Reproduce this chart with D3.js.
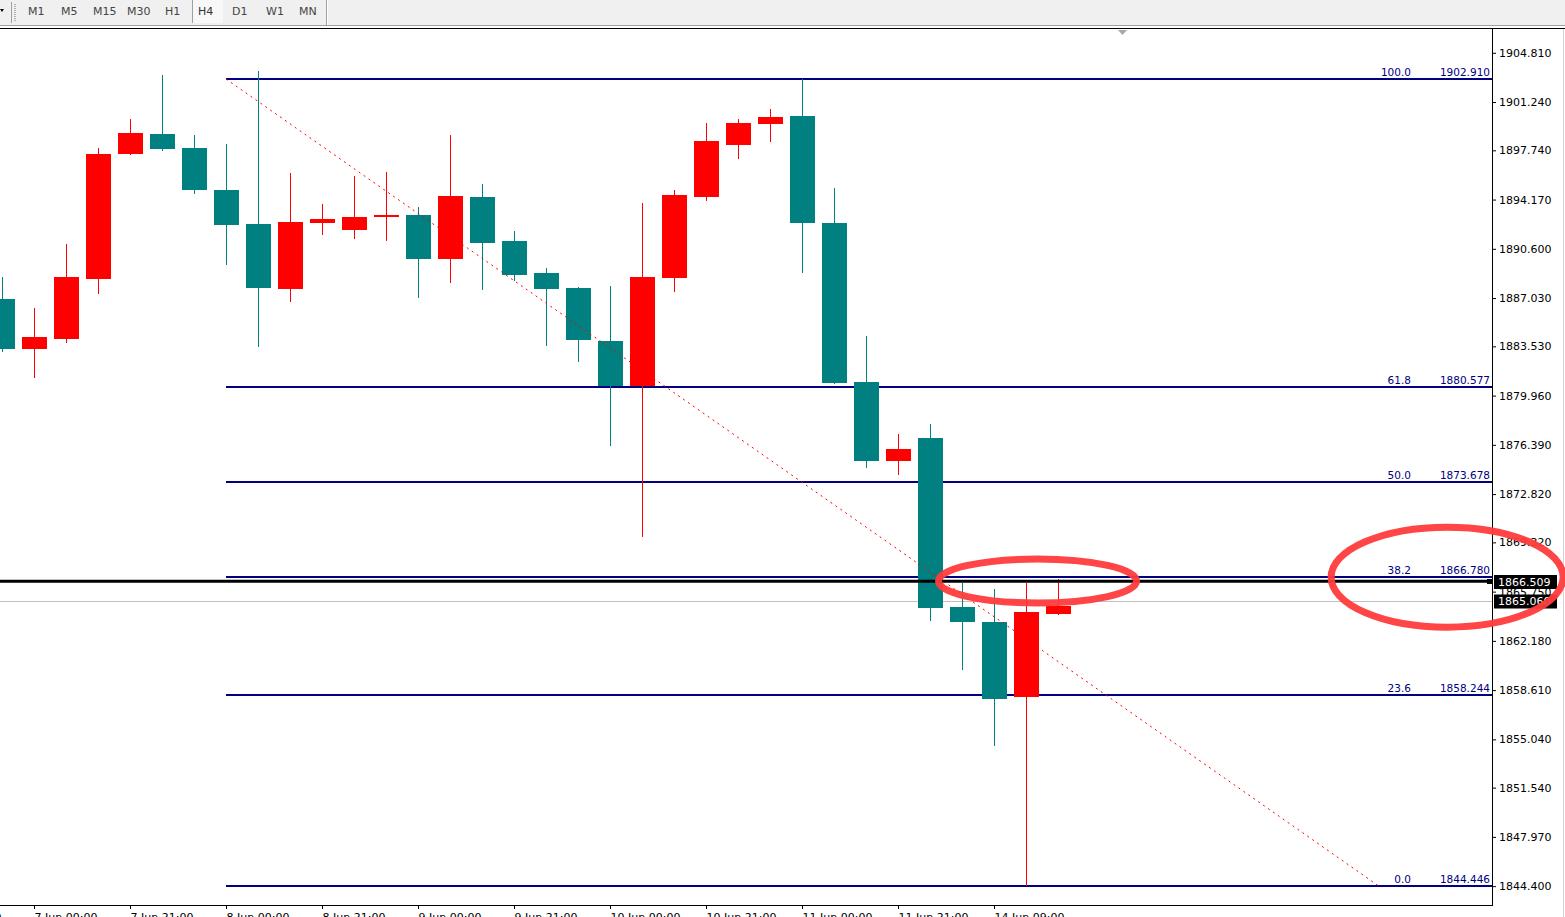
<!DOCTYPE html>
<html>
<head>
<meta charset="utf-8">
<script src="https://cdn.jsdelivr.net/npm/d3@7/dist/d3.min.js"></script>
<style>
  html, body { margin: 0; padding: 0; background: #ffffff; }
  svg { display: block; font-family: "DejaVu Sans", sans-serif; }
</style>
</head>
<body>
<svg id="chart" width="1565" height="917"></svg>
<script>
// ---- data ----
const candleIndex = d3.range(0, 34);
const opens  = [1886.96,1883.34,1884.06,1888.41,1897.47,1898.92,1897.91,1894.86,1892.40,1887.69,1892.47,1891.96,1892.91,1893.05,1889.86,1894.36,1891.17,1888.85,1887.76,1883.92,1880.66,1888.48,1894.36,1898.13,1899.65,1900.23,1892.47,1880.95,1875.22,1876.89,1864.63,1863.55,1858.11,1864.16];
const highs  = [1888.56,1886.31,1890.95,1897.91,1900.01,1903.20,1898.85,1898.20,1903.49,1896.10,1893.85,1895.88,1896.17,1893.63,1898.85,1895.30,1891.89,1889.21,1887.83,1887.91,1893.92,1894.86,1899.72,1900.01,1900.74,1902.91,1895.01,1884.28,1877.18,1877.90,1866.37,1865.94,1866.40,1866.66];
const lows   = [1883.20,1881.31,1883.85,1887.40,1897.47,1897.76,1894.67,1889.50,1883.55,1886.82,1891.67,1891.38,1891.24,1887.11,1888.19,1887.69,1888.34,1883.62,1882.47,1876.38,1869.78,1887.54,1894.14,1897.18,1898.42,1888.92,1880.87,1874.78,1874.27,1863.69,1860.14,1854.61,1844.48,1864.16];
const closes = [1883.34,1884.21,1888.56,1897.47,1898.99,1897.84,1894.86,1892.33,1887.76,1892.54,1892.76,1892.91,1893.05,1889.86,1894.43,1891.02,1888.70,1887.69,1883.99,1880.66,1888.56,1894.50,1898.42,1899.72,1900.16,1892.47,1880.87,1875.22,1876.09,1864.56,1863.55,1858.00,1864.27,1864.73];

const priceTicks = [1904.810,1901.240,1897.740,1894.170,1890.600,1887.030,1883.530,1879.960,1876.390,1872.820,1869.320,1865.750,1862.180,1858.610,1855.040,1851.540,1847.970,1844.400];
const timeTickIndex = [-2,1,4,7,10,13,16,19,22,25,28,31];
const timeTickLabels = ["4 Jun 21:00","7 Jun 00:00","7 Jun 21:00","8 Jun 00:00","8 Jun 21:00","9 Jun 00:00","9 Jun 21:00","10 Jun 00:00","10 Jun 21:00","11 Jun 00:00","11 Jun 21:00","14 Jun 09:00"];

const fibLevels = ["100.0","61.8","50.0","38.2","23.6","0.0"];
const fibPrices = [1902.910,1880.577,1873.678,1866.780,1858.244,1844.446];
const fibStartIndex = 7;
const fibEndIndex = 43;

const periods = ["M1","M5","M15","M30","H1","H4","D1","W1","MN"];
const activePeriod = "H4";

const linePrice = 1866.509;
const bidPrice = 1865.060;
const circledPoints = [{i: 32.36, p: 1866.52}, {i: 45.16, p: 1866.80}];

// ---- layout ----
const W = 1565, H = 917;
const plotLeft = 0, plotRight = 1492, plotTop = 29, plotBottom = 905;

const x = d3.scaleLinear().domain([0, 46.5625]).range([2, 1492]);
const y = d3.scaleLinear().domain([1844.446, 1902.910]).range([885.5, 79]);

const svg = d3.select("#chart");
const defs = svg.append("defs");
defs.append("clipPath").attr("id", "plotClip")
  .append("rect").attr("x", plotLeft).attr("y", plotTop)
  .attr("width", plotRight - plotLeft).attr("height", plotBottom - plotTop);

svg.append("rect").attr("width", W).attr("height", H).attr("fill", "#ffffff");

// ---- toolbar ----
const tb = svg.append("g");
tb.append("rect").attr("x", 0).attr("y", 0).attr("width", W).attr("height", 25).attr("fill", "#f0f0f0");
tb.append("line").attr("x1", 0).attr("x2", W).attr("y1", 25.5).attr("y2", 25.5).attr("stroke", "#a0a0a0");
tb.append("line").attr("x1", 0).attr("x2", W).attr("y1", 28.5).attr("y2", 28.5).attr("stroke", "#000000");
tb.append("path").attr("d", "M0,9 L4,9 L2,12 Z").attr("fill", "#000");
tb.append("line").attr("x1", 11.5).attr("x2", 11.5).attr("y1", 2).attr("y2", 23).attr("stroke", "#a0a0a0");
for (let gy = 4; gy < 22; gy += 2) {
  tb.append("rect").attr("x", 14).attr("y", gy).attr("width", 2).attr("height", 1).attr("fill", "#b0b0b0");
}
const periodX = [28, 61, 93, 127, 165, 198, 232, 266, 299];
const activeI = periods.indexOf(activePeriod);
tb.append("rect").attr("x", 192).attr("y", 0).attr("width", 31).attr("height", 23).attr("fill", "#f8f8f8");
tb.append("line").attr("x1", 192.5).attr("x2", 192.5).attr("y1", 0).attr("y2", 23).attr("stroke", "#a0a0a0");
tb.append("line").attr("x1", 326.5).attr("x2", 326.5).attr("y1", 0).attr("y2", 25).attr("stroke", "#a0a0a0");
tb.append("line").attr("x1", 327.5).attr("x2", 327.5).attr("y1", 0).attr("y2", 25).attr("stroke", "#ffffff");
tb.selectAll("text.period").data(periods).join("text")
  .attr("class", "period")
  .attr("x", (d, i) => periodX[i])
  .attr("y", 14.5)
  .attr("font-size", 11)
  .attr("fill", (d, i) => i === activeI ? "#333" : "#444")
  .text(d => d);

// chart shift marker
svg.append("path").attr("d", "M1118,30 L1127,30 L1122.5,35 Z").attr("fill", "#a8a8a8");

// ---- plot ----
const plot = svg.append("g").attr("clip-path", "url(#plotClip)");

const upColor = "#ff0000", downColor = "#008080";
const candles = candleIndex.map(i => ({i, o: opens[i], h: highs[i], l: lows[i], c: closes[i]}));

// fib lines
fibPrices.forEach((p, k) => {
  plot.append("line")
    .attr("x1", x(fibStartIndex)).attr("x2", plotRight)
    .attr("y1", Math.round(y(p))).attr("y2", Math.round(y(p)))
    .attr("stroke", "#000080").attr("stroke-width", 2);
});

// bid line
plot.append("line").attr("x1", 0).attr("x2", plotRight)
  .attr("y1", Math.round(y(bidPrice)) + 0.5).attr("y2", Math.round(y(bidPrice)) + 0.5)
  .attr("stroke", "#c0c0c0").attr("stroke-width", 1);

// candles
const cg = plot.append("g").attr("shape-rendering", "crispEdges");
cg.selectAll("line.wick").data(candles).join("line")
  .attr("x1", d => Math.round(x(d.i)) + 0.5).attr("x2", d => Math.round(x(d.i)) + 0.5)
  .attr("y1", d => Math.round(y(d.h))).attr("y2", d => Math.round(y(d.l)) + 1)
  .attr("stroke", d => d.c >= d.o ? upColor : downColor).attr("stroke-width", 1);
cg.selectAll("rect.body").data(candles).join("rect")
  .attr("x", d => Math.round(x(d.i)) - 12)
  .attr("width", 25)
  .attr("y", d => Math.round(y(Math.max(d.o, d.c))))
  .attr("height", d => Math.max(1, Math.round(y(Math.min(d.o, d.c))) - Math.round(y(Math.max(d.o, d.c)))))
  .attr("fill", d => d.c >= d.o ? upColor : downColor);

// fib trend line (dotted)
plot.append("line")
  .attr("x1", x(fibStartIndex)).attr("y1", y(fibPrices[0]))
  .attr("x2", x(fibEndIndex)).attr("y2", y(fibPrices[fibPrices.length - 1]))
  .attr("stroke", "#ff0000").attr("stroke-width", 1).attr("stroke-dasharray", "2,4");

// fib labels
fibPrices.forEach((p, k) => {
  plot.append("text").attr("x", 1411).attr("y", Math.round(y(p)) - 3)
    .attr("text-anchor", "end").attr("font-size", 10.5).attr("fill", "#000080").text(fibLevels[k]);
  plot.append("text").attr("x", 1490).attr("y", Math.round(y(p)) - 3)
    .attr("text-anchor", "end").attr("font-size", 10.5).attr("fill", "#000080").text(d3.format(".3f")(p));
});

// horizontal black line
plot.append("line").attr("x1", 0).attr("x2", plotRight)
  .attr("y1", y(linePrice)).attr("y2", y(linePrice))
  .attr("stroke", "#000000").attr("stroke-width", 3);
plot.append("rect").attr("x", 1487).attr("y", Math.round(y(linePrice)) - 2).attr("width", 5).attr("height", 5).attr("fill", "#000");

// ---- axes ----
const yAxis = d3.axisRight(y).tickValues(priceTicks).tickFormat(d3.format(".3f")).tickSize(4).tickPadding(3);
const ya = svg.append("g").attr("transform", `translate(${plotRight},0)`).call(yAxis);
ya.select(".domain").remove();
ya.selectAll("text").attr("font-size", 11).attr("font-family", "DejaVu Sans").attr("fill", "#000");
ya.selectAll("line").attr("stroke", "#000");

const xAxis = d3.axisBottom(x).tickValues(timeTickIndex).tickFormat((d, k) => timeTickLabels[k]).tickSize(4);
const xa = svg.append("g").attr("transform", `translate(0,${plotBottom})`).call(xAxis);
xa.select(".domain").remove();
xa.selectAll("text").attr("font-size", 11).attr("font-family", "DejaVu Sans").attr("fill", "#000")
  .attr("text-anchor", "start").attr("x", 0).attr("y", 16).attr("dy", 0);
xa.selectAll("line").attr("stroke", "#000");

// frame lines
svg.append("line").attr("x1", plotRight + 0.5).attr("x2", plotRight + 0.5).attr("y1", plotTop).attr("y2", plotBottom + 1).attr("stroke", "#000");
svg.append("line").attr("x1", 0).attr("x2", plotRight + 1).attr("y1", plotBottom + 0.5).attr("y2", plotBottom + 0.5).attr("stroke", "#000");
svg.append("line").attr("x1", 1563.5).attr("x2", 1563.5).attr("y1", plotTop).attr("y2", H).attr("stroke", "#d4d4d4");

// price boxes
function priceBox(p, yc) {
  svg.append("rect").attr("x", 1494).attr("y", yc - 7).attr("width", 63).attr("height", 14).attr("fill", "#000");
  svg.append("text").attr("x", 1498).attr("y", yc).attr("dy", "0.35em").attr("font-size", 11)
    .attr("fill", "#fff").text(d3.format(".3f")(p));
}
priceBox(linePrice, Math.round(y(linePrice)) + 1);
priceBox(bidPrice, Math.round(y(bidPrice)) + 0.5);

// ---- red ellipses (annotations) ----
const ell = [{rx: 99, ry: 22}, {rx: 116, ry: 50}];
circledPoints.forEach((c, k) => {
  svg.append("ellipse")
    .attr("cx", x(c.i)).attr("cy", y(c.p))
    .attr("rx", ell[k].rx).attr("ry", ell[k].ry)
    .attr("fill", "none").attr("stroke", "#ff3b3b").attr("stroke-opacity", 0.95).attr("stroke-width", 7);
});
</script>
</body>
</html>
